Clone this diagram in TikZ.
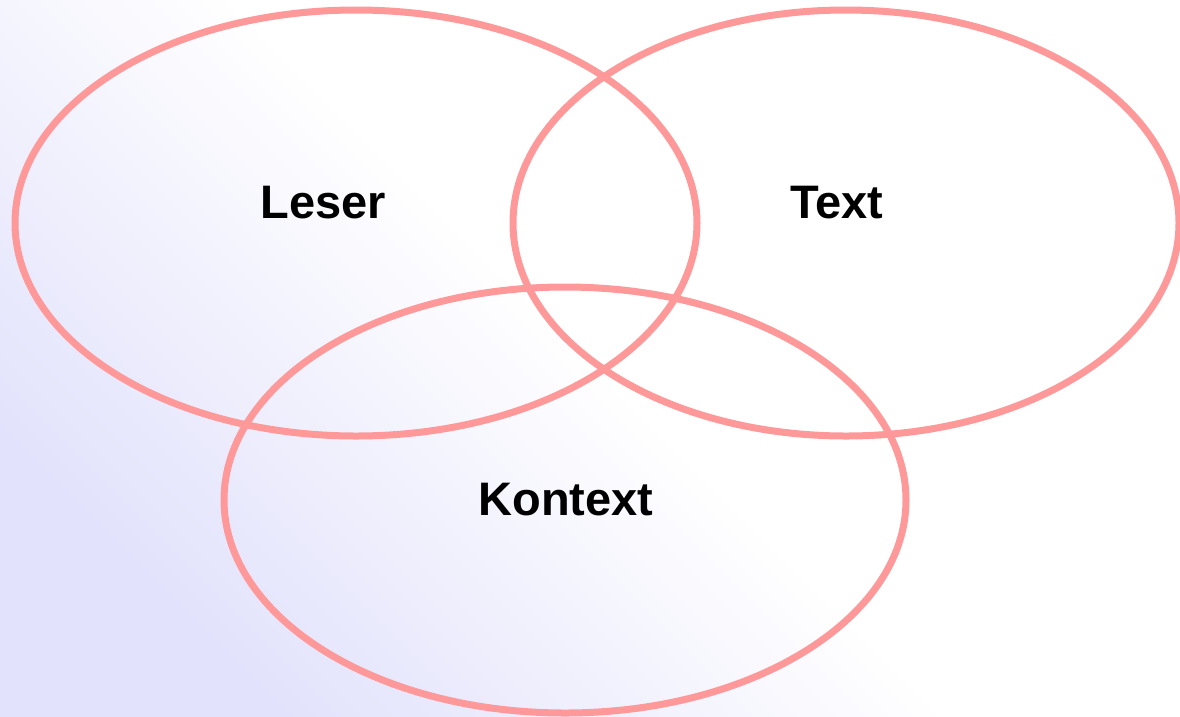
\documentclass[tikz,border=0pt]{standalone}
\usepackage{fontspec}
\setmainfont{Liberation Sans}
\usepackage{tikz}
\usetikzlibrary{positioning}
\definecolor{rosa}{RGB}{255,153,153}
\definecolor{lavendel}{RGB}{226,226,252}

\begin{document}
\begin{tikzpicture}[x=1pt,y=-1pt]
\tikzset{kreis/.style={draw=rosa,line width=7pt},
  wort/.style={font=\fontsize{47}{56}\selectfont\bfseries}}
\shade[shading=axis,top color=white,bottom color=lavendel,middle color=white,shading angle=-45] (0,0) rectangle (1180,716);
\useasboundingbox (0,0) rectangle (1180,716);
\foreach \cx/\cy/\rx in {356/223/341,846/223/333,565/500/341}{
  \draw[kreis] (\cx,\cy) ellipse [x radius=\rx, y radius=213];
}
\node[wort] (leser) at (323,203) {Leser};
\node[wort] (text) at (837,203) {Text};
\node[wort] (kontext) at (566,500) {Kontext};
\end{tikzpicture}
\end{document}
